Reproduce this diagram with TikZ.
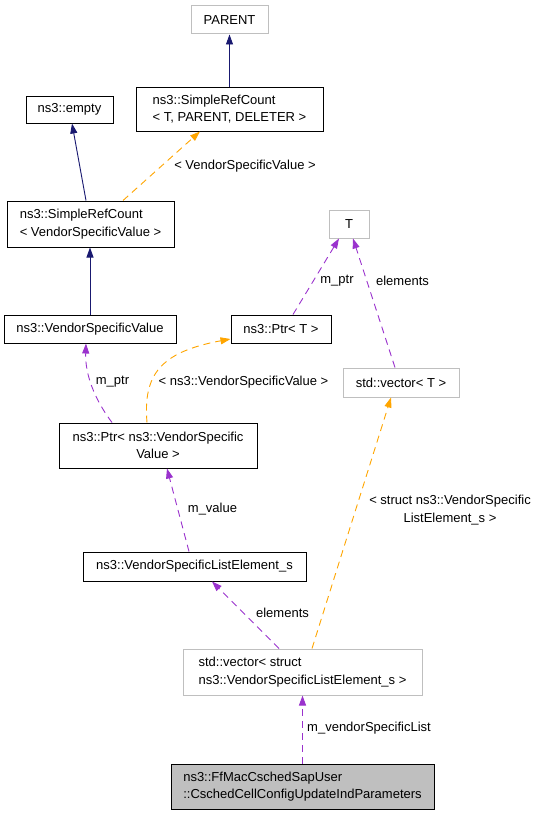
\documentclass[tikz,border=0pt]{standalone}
\usepackage{fontspec}
\setmainfont{Liberation Sans}
\usetikzlibrary{positioning,calc,arrows.meta}
\definecolor{inhBlue}{HTML}{191970}
\definecolor{tmplOrange}{HTML}{FFA500}
\definecolor{useViolet}{HTML}{9A32CD}
\definecolor{boxGray}{HTML}{BFBFBF}

\begin{document}
\begin{tikzpicture}[x=1pt, y=-1pt, >={Triangle[length=10pt,width=7pt]},
  font=\fontsize{13}{17.5}\selectfont]
\tikzset{
  cls/.style={draw=black, line width=1pt, inner sep=0pt, align=center},
  ext/.style={draw=boxGray, line width=1pt, inner sep=0pt, align=center},
  inh/.style={->, inhBlue, line width=0.9pt},
  tmpl/.style={->, tmplOrange, line width=0.9pt, dash pattern=on 7pt off 5pt},
  use/.style={->, useViolet, line width=0.9pt, dash pattern=on 7pt off 5pt},
  lbl/.style={inner sep=0pt, align=center}
}
\useasboundingbox (0,0) rectangle (540,816);

% -------- classes ----------
\node (parent) [ext, minimum width=77pt, minimum height=28pt] at (229.5,20) {PARENT};
\node (srcTPD) [cls, minimum width=187pt, minimum height=44pt, align=left] at (229.5,109)
  {ns3::SimpleRefCount\\< T, PARENT, DELETER >};
\node (empty) [cls, minimum width=87pt, minimum height=27pt] at (69.5,109.5) {ns3::empty};
\node (srcVSV) [cls, minimum width=167pt, minimum height=46pt, align=left] at (90.5,224)
  {ns3::SimpleRefCount\\< VendorSpecificValue >};
\node (tT) [ext, minimum width=40pt, minimum height=28pt] at (349,224) {T};
\node (vsv) [cls, minimum width=172pt, minimum height=28pt] at (90,329) {ns3::VendorSpecificValue};
\node (ptrT) [cls, minimum width=100pt, minimum height=28pt] at (281,329) {ns3::Ptr< T >};
\node (vecT) [ext, minimum width=116pt, minimum height=29pt] at (401,382.5) {std::vector< T >};
\node (ptrVSV) [cls, minimum width=198pt, minimum height=45pt] at (158,445.5)
  {ns3::Ptr< ns3::VendorSpecific\\Value >};
\node (vsle) [cls, minimum width=223pt, minimum height=29pt] at (194.5,566.5)
  {ns3::VendorSpecificListElement\_s};
\node (vecS) [ext, minimum width=239pt, minimum height=46pt, align=left] at (302.5,672)
  {std::vector< struct\\ ns3::VendorSpecificListElement\_s >};
\node (csched) [cls, fill=boxGray, minimum width=263pt, minimum height=45pt, align=left] at (302.5,786.5)
  {ns3::FfMacCschedSapUser\\::CschedCellConfigUpdateIndParameters};

% -------- inheritance ----------
\draw[inh] (srcTPD.north) -- (parent.south);
\draw[inh] ([xshift=-4.5pt]srcVSV.north) -- ([xshift=2.5pt]empty.south);
\draw[inh] (vsv.north) -- (vsv.north |- srcVSV.south);

% -------- template instances ----------
\draw[tmpl] ([xshift=32.5pt]srcVSV.north) -- ([xshift=-29.5pt]srcTPD.south);
\node (lblSrc) [lbl] at (245,166) {< VendorSpecificValue >};
\draw[tmpl] ([xshift=-11pt]ptrVSV.north) .. controls (143,375) and (160,352) .. ([yshift=-10pt]ptrT.west);
\node (lblPtrTmpl) [lbl] at (243.5,382) {< ns3::VendorSpecificValue >};
\draw[tmpl] ([xshift=9.5pt]vecS.north) -- ([xshift=-10pt]vecT.south);
\node (lblVecTmpl) [lbl] at (450,510) {< struct ns3::VendorSpecific\\ListElement\_s >};

% -------- members ----------
\draw[use] ([xshift=12pt]ptrT.north) -- ([xshift=-10pt]tT.south);
\node (lblPtrT) [lbl] at (337,281) {m\_ptr};
\draw[use] ([xshift=-6pt]vecT.north) -- ([xshift=4pt]tT.south);
\node (lblElemT) [lbl] at (402.5,281) {elements};
\draw[use] ([xshift=-46pt]ptrVSV.north) .. controls (95,400) and (85,375) .. ([xshift=-4pt]vsv.south);
\node (lblPtrV) [lbl] at (112.5,382) {m\_ptr};
\draw[use] ([xshift=-5.5pt]vsle.north) -- ([xshift=9pt]ptrVSV.south);
\node (lblValue) [lbl] at (212.5,509) {m\_value};
\draw[use] ([xshift=-23.5pt]vecS.north) -- ([xshift=17.5pt]vsle.south);
\node (lblElemS) [lbl] at (282.5,613) {elements};
\draw[use] (csched.north) -- (vecS.south);
\node (lblList) [lbl] at (369,728) {m\_vendorSpecificList};
\end{tikzpicture}
\end{document}
